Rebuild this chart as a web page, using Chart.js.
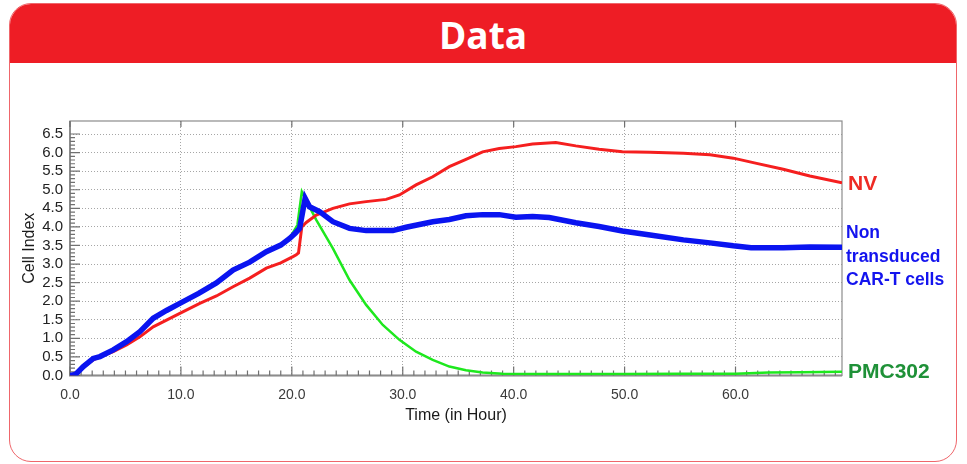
<!DOCTYPE html>
<html>
<head>
<meta charset="utf-8">
<script src="https://cdn.jsdelivr.net/npm/chart.js@4.4.1/dist/chart.umd.min.js"></script>
<style>
  html, body { margin: 0; padding: 0; background: #fff; }
  body { width: 967px; height: 464px; position: relative; overflow: hidden; }
  #card {
    position: absolute; left: 9px; top: 3px; width: 946px; height: 457px;
    border: 1.5px solid #ef666b; border-radius: 22px; overflow: hidden;
  }
  #head {
    height: 59px; background: #ee1d25; color: #fff; text-align: center;
    font: bold 37px "Open Sans", sans-serif; line-height: 62px;
  }
  #chart { position: absolute; left: 0; top: 0; }
  .lbl { position: absolute; font-family: "Liberation Sans", Arial, sans-serif; font-weight: bold; white-space: nowrap; }
</style>
</head>
<body>
<div id="card"><div id="head">Data</div></div>
<canvas id="chart" width="967" height="464"></canvas>
<div class="lbl" style="left:848px; top:171px; font-size:21px; color:#ee2b24;">NV</div>
<div class="lbl" style="left:846px; top:221px; font-size:17.5px; line-height:23.5px; color:#1414ee;">Non<br>transduced<br>CAR-T cells</div>
<div class="lbl" style="left:848px; top:359px; font-size:21px; color:#1f9138;">PMC302</div>

<script>
// values (time in hours, cell index)
let nvTime = [0, 0.5, 1.2, 2.1, 2.7, 3.9, 5.1, 6.3, 7.5, 8.7, 9.9, 11.7, 13.2, 14.7, 16.2, 17.7, 19.0, 20.1, 20.4, 20.6, 20.9, 21.3, 22.2, 23.7, 25.2, 26.7, 28.5, 29.7, 31.2, 32.7, 34.2, 35.7, 37.2, 38.7, 40.2, 41.7, 43.8, 45.6, 47.7, 49.8, 52.3, 55.3, 57.7, 59.8, 61.9, 64.3, 66.7, 69.6];
let nvValues = [0, 0.05, 0.22, 0.42, 0.5, 0.64, 0.82, 1.04, 1.31, 1.49, 1.67, 1.94, 2.14, 2.39, 2.62, 2.89, 3.03, 3.2, 3.25, 3.3, 4.0, 4.12, 4.32, 4.5, 4.62, 4.68, 4.74, 4.86, 5.13, 5.35, 5.62, 5.82, 6.02, 6.11, 6.16, 6.23, 6.27, 6.18, 6.09, 6.02, 6.01, 5.98, 5.94, 5.85, 5.71, 5.55, 5.37, 5.19];

let carTime = [0, 0.5, 1.2, 2.1, 2.7, 3.9, 5.1, 6.3, 7.5, 8.7, 9.9, 11.6, 13.2, 14.7, 16.2, 17.7, 19.0, 19.8, 20.3, 20.7, 21.2, 21.6, 22.5, 23.7, 25.2, 26.7, 29.1, 30.3, 32.7, 34.2, 35.7, 37.2, 38.7, 40.2, 41.7, 43.2, 45.6, 47.7, 49.8, 52.3, 55.3, 57.7, 59.8, 61.4, 64.3, 66.7, 69.6];
let carValues = [0, 0.03, 0.24, 0.46, 0.51, 0.69, 0.91, 1.18, 1.54, 1.75, 1.94, 2.21, 2.49, 2.84, 3.05, 3.33, 3.51, 3.69, 3.83, 3.96, 4.77, 4.54, 4.41, 4.14, 3.96, 3.9, 3.9, 3.99, 4.14, 4.2, 4.3, 4.33, 4.33, 4.26, 4.28, 4.25, 4.11, 4.01, 3.89, 3.78, 3.65, 3.57, 3.49, 3.44, 3.44, 3.46, 3.45];

let pmcTime = [0, 0.5, 1.2, 2.1, 2.7, 3.9, 5.1, 6.3, 7.5, 8.7, 9.9, 11.6, 13.2, 14.7, 16.2, 17.7, 19.0, 19.8, 20.5, 20.9, 21.6, 22.2, 23.7, 25.2, 26.7, 28.2, 29.7, 31.2, 32.7, 34.2, 35.7, 37.2, 39.0, 42.0, 45.0, 50.0, 55.0, 60.0, 63.0, 66.0, 69.6];
let pmcValues = [0, 0.03, 0.24, 0.46, 0.51, 0.69, 0.91, 1.18, 1.54, 1.75, 1.94, 2.21, 2.49, 2.84, 3.05, 3.33, 3.51, 3.69, 4.05, 4.95, 4.54, 4.19, 3.42, 2.57, 1.9, 1.36, 0.96, 0.64, 0.42, 0.24, 0.14, 0.08, 0.05, 0.04, 0.04, 0.04, 0.05, 0.05, 0.08, 0.09, 0.1];

let xTicks = [0, 10, 20, 30, 40, 50, 60];
let yTicks = [0, 0.5, 1, 1.5, 2, 2.5, 3, 3.5, 4, 4.5, 5, 5.5, 6, 6.5];

let toPoints = function (times, values) {
    return times.map(function (t, i) {
        return { x: t, y: values[i] };
    });
}

// frame round the plot plus the small inner ticks
let framePlugin = {
    id: 'frame',
    beforeDatasetsDraw: function (chart) {
        const ctx = chart.ctx;
        const area = chart.chartArea;
        const xs = chart.scales.x;
        const ys = chart.scales.y;
        ctx.save();
        ctx.strokeStyle = '#8c8c8c';
        ctx.lineWidth = 1.2;
        ctx.strokeRect(area.left, area.top, area.right - area.left, area.bottom - area.top);
        ctx.lineWidth = 2;
        ctx.beginPath();
        ctx.moveTo(area.left, area.top);
        ctx.lineTo(area.left, area.bottom);
        ctx.lineTo(area.right, area.bottom);
        ctx.stroke();

        ctx.lineWidth = 1.2;
        ctx.strokeStyle = '#707070';
        ctx.beginPath();
        for (let t = 0; t <= 69; t++) {
            let px = xs.getPixelForValue(t);
            let len = (t % 10 === 0) ? 9 : 5;
            ctx.moveTo(px, area.bottom);
            ctx.lineTo(px, area.bottom - len);
            if (t % 10 === 0) {
                ctx.moveTo(px, area.top);
                ctx.lineTo(px, area.top + 6);
            }
        }
        for (let i = 0; i <= 65; i++) {
            let py = ys.getPixelForValue(i / 10);
            let len = (i % 5 === 0) ? 10 : 5;
            ctx.moveTo(area.left, py);
            ctx.lineTo(area.left + len, py);
        }
        ctx.stroke();
        ctx.restore();
    }
}

// dataset 0 is drawn on top, so blue first and green last
const ctx = document.getElementById('chart').getContext('2d');
var myChart = new Chart(ctx, {
    type: 'line',
    data: {
        datasets: [{
            label: 'Non transduced CAR-T cells',
            data: toPoints(carTime, carValues),
            borderColor: '#0a14f0',
            borderWidth: 5.5,
            pointRadius: 0,
            tension: 0
        }, {
            label: 'NV',
            data: toPoints(nvTime, nvValues),
            borderColor: '#f51f1f',
            borderWidth: 3,
            pointRadius: 0,
            tension: 0
        }, {
            label: 'PMC302',
            data: toPoints(pmcTime, pmcValues),
            borderColor: '#1ee81e',
            borderWidth: 2.5,
            pointRadius: 0,
            tension: 0
        }]
    },
    options: {
        responsive: false,
        animation: false,
        layout: {
            padding: { left: 10, top: 121, right: 125, bottom: 30 }
        },
        plugins: {
            legend: { display: false },
            tooltip: { enabled: false }
        },
        scales: {
            x: {
                type: 'linear',
                min: 0,
                max: 69.6,
                afterBuildTicks: function (scale) {
                    scale.ticks = xTicks.map(function (v) { return { value: v }; });
                },
                afterFit: function (scale) {
                    scale.height = 58.5;
                },
                ticks: {
                    autoSkip: false,
                    maxRotation: 0,
                    padding: 11,
                    color: '#3a3a3a',
                    font: { family: 'Liberation Sans', size: 14 },
                    callback: function (v) { return v.toFixed(1); }
                },
                grid: { color: '#a6a6a6', lineWidth: 1, drawTicks: false },
                border: { display: false, dash: [1, 2] },
                title: {
                    display: true,
                    text: 'Time (in Hour)',
                    color: '#1a1a1a',
                    font: { family: 'Liberation Sans', size: 16 },
                    padding: { top: 0, bottom: 9 }
                }
            },
            y: {
                min: 0,
                max: 6.85,
                afterBuildTicks: function (scale) {
                    scale.ticks = yTicks.map(function (v) { return { value: v }; });
                },
                afterFit: function (scale) {
                    scale.width = 60;
                },
                ticks: {
                    autoSkip: false,
                    padding: 7,
                    color: '#222',
                    font: { family: 'Liberation Sans', size: 15 },
                    callback: function (v) { return v.toFixed(1); }
                },
                grid: { color: '#a6a6a6', lineWidth: 1, drawTicks: false },
                border: { display: false, dash: [1, 2] },
                title: {
                    display: true,
                    text: 'Cell Index',
                    color: '#1a1a1a',
                    font: { family: 'Liberation Sans', size: 16 },
                    padding: { top: 10, bottom: 0 }
                }
            }
        }
    },
    plugins: [framePlugin]
});
</script>
</body>
</html>
